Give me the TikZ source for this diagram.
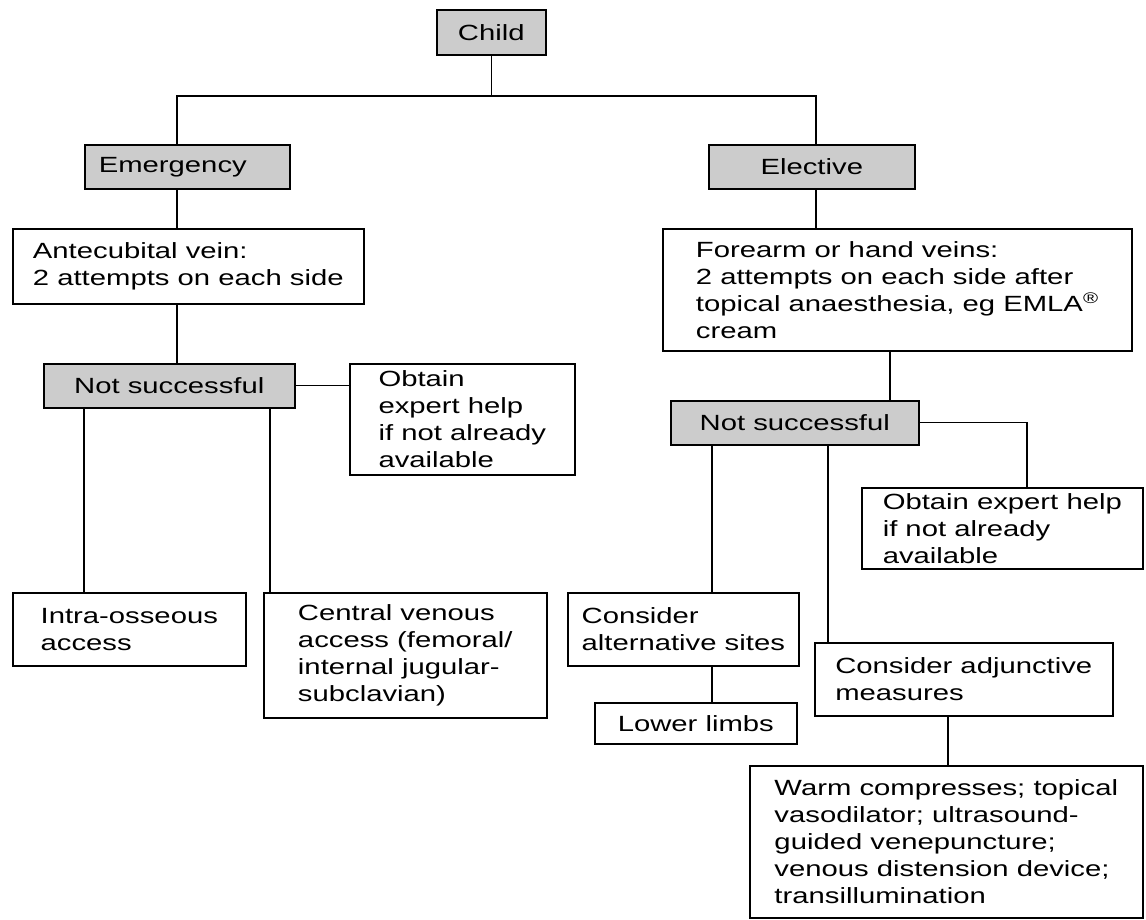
\documentclass[tikz,border=0pt]{standalone}
\usepackage{fontspec}
\setmainfont[FakeStretch=1.33]{Liberation Sans}
\usepackage{tikz}
\usetikzlibrary{positioning}
\definecolor{boxgrey}{HTML}{CCCCCC}

\begin{document}
\begin{tikzpicture}[x=1pt, y=-1pt,
  every node/.style={font=\fontsize{22}{27}\selectfont, inner sep=0pt},
  greybox/.style={draw, line width=1.6pt, fill=boxgrey, minimum height=44pt, anchor=north west},
  plainbox/.style={draw, line width=1.6pt, fill=white, align=left, anchor=north west},
  link/.style={line width=1.3pt}]
  \useasboundingbox (0,0) rectangle (1146,920);

  % top
  \node[greybox, minimum width=109pt, minimum height=45pt] (child) at (436,9) {Child};
  \coordinate (split) at (487,96);

  % left branch: emergency
  \node[greybox, text width=177pt, inner xsep=14pt, align=left] (emerg) at (84,144) {Emergency};
  \node[plainbox, minimum width=351pt, minimum height=75pt] (antec) at (12,228) {Antecubital vein:\\2 attempts on each side};
  \node[greybox, minimum width=251pt] (nsl) at (43,363) {Not successful};
  \node[plainbox, minimum width=225pt, minimum height=111pt] (obt1) at (349,363) {Obtain\\expert help\\if not already\\available};
  \node[plainbox, minimum width=233pt, minimum height=73pt] (intra) at (12,592) {Intra-osseous\\access};
  \node[plainbox, minimum width=283pt, minimum height=125pt] (central) at (263,592) {Central venous\\access (femoral/\\internal jugular-\\subclavian)};

  % right branch: elective
  \node[greybox, minimum width=206pt] (elect) at (708,144) {Elective};
  \node[plainbox, minimum width=469pt, minimum height=122pt] (forearm) at (662,228) {Forearm or hand veins:\\2 attempts on each side after\\topical anaesthesia, eg EMLA\textsuperscript{\textregistered}\\cream};
  \node[greybox, minimum width=248pt] (nsr) at (670,400) {Not successful};
  \node[plainbox, minimum width=281pt, minimum height=81pt] (obt2) at (861,487) {Obtain expert help\\if not already\\available};
  \node[plainbox, minimum width=231pt, minimum height=73pt] (alt) at (567,592) {Consider\\alternative sites};
  \node[plainbox, minimum width=202pt, minimum height=41pt] (lower) at (594,702) {Lower limbs};
  \node[plainbox, minimum width=298pt, minimum height=73pt] (adj) at (814,642) {Consider adjunctive\\measures};
  \node[plainbox, minimum width=393pt, minimum height=152pt] (warm) at (749,765) {Warm compresses; topical\\vasodilator; ultrasound-\\guided venepuncture;\\venous distension device;\\transillumination};

  % connectors
  \draw[link] (child.south) -- (child.south |- split);
  \draw[link] ([xshift=93pt]emerg.north west) |- (split) -| ([xshift=108pt]elect.north west);
  \draw[link] ([xshift=93pt]emerg.south west) -- ([xshift=93pt]emerg.south west |- antec.north);
  \draw[link] ([xshift=134pt]nsl.north west) -- ([xshift=134pt]nsl.north west |- antec.south);
  \draw[link] (nsl.east) -- (nsl.east -| obt1.west);
  \draw[link] ([xshift=72pt]intra.north west) -- ([xshift=72pt]intra.north west |- nsl.south);
  \draw[link] ([xshift=7pt]central.north west) -- ([xshift=7pt]central.north west |- nsl.south);
  \draw[link] ([xshift=108pt]elect.south west) -- ([xshift=108pt]elect.south west |- forearm.north);
  \draw[link] ([xshift=220pt]nsr.north west) -- ([xshift=220pt]nsr.north west |- forearm.south);
  \draw[link] (nsr.east) -| ([xshift=166pt]obt2.north west);
  \draw[link] ([xshift=145pt]alt.north west) -- ([xshift=145pt]alt.north west |- nsr.south);
  \draw[link] ([xshift=145pt]alt.south west) -- ([xshift=145pt]alt.south west |- lower.north);
  \draw[link] ([xshift=14pt]adj.north west) -- ([xshift=14pt]adj.north west |- nsr.south);
  \draw[link] ([xshift=199pt]warm.north west) -- ([xshift=199pt]warm.north west |- adj.south);
\end{tikzpicture}
\end{document}
